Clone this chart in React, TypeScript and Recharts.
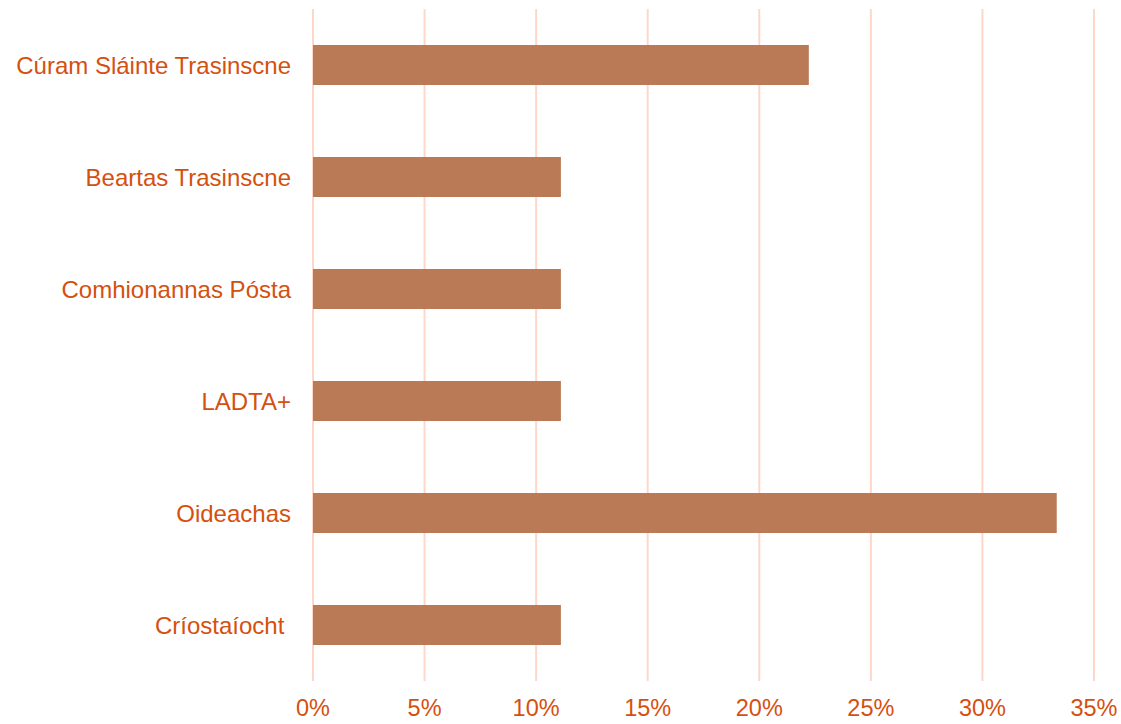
import React from 'react';
import { BarChart, Bar, XAxis, YAxis, CartesianGrid } from 'recharts';

const categories = [
  'Cúram Sláinte Trasinscne',
  'Beartas Trasinscne',
  'Comhionannas Pósta',
  'LADTA+',
  'Oideachas',
  'Críostaíocht\u00A0',
];
const shares = [0.2222, 0.1111, 0.1111, 0.1111, 0.3333, 0.1111];
const xTicks = [0, 0.05, 0.1, 0.15, 0.2, 0.25, 0.3, 0.35];

const data = categories.map((name, i) => ({ name, value: shares[i] }));

const TEXT = '#D5500F';
const FONT = '"Liberation Sans", Arial, sans-serif';

export default function App() {
  return (
    <div style={{ position: 'absolute', left: 0, top: 0, width: 1121, height: 724 }}>
      <BarChart
        width={1121}
        height={724}
        data={data}
        layout="vertical"
        margin={{ top: 9, right: 27, bottom: 0, left: 8 }}
        style={{ fontFamily: FONT }}
      >
        <CartesianGrid horizontal={false} vertical stroke="#FDD8C9" strokeWidth={2} />
        <XAxis
          type="number"
          domain={[0, 0.35]}
          ticks={xTicks}
          tickFormatter={(v: number) => `${Math.round(v * 100)}%`}
          axisLine={false}
          tickLine={false}
          tickSize={0}
          tickMargin={18}
          height={43}
          interval={0}
          tick={{ fill: TEXT, fontSize: 23.5, fontFamily: FONT }}
        />
        <YAxis
          type="category"
          dataKey="name"
          width={305}
          axisLine={false}
          tickLine={false}
          tickSize={0}
          tickMargin={22}
          interval={0}
          tick={{ fill: TEXT, fontSize: 24, fontFamily: FONT }}
        />
        <Bar dataKey="value" fill="#BA7A56" barSize={40} isAnimationActive={false} />
      </BarChart>
    </div>
  );
}
